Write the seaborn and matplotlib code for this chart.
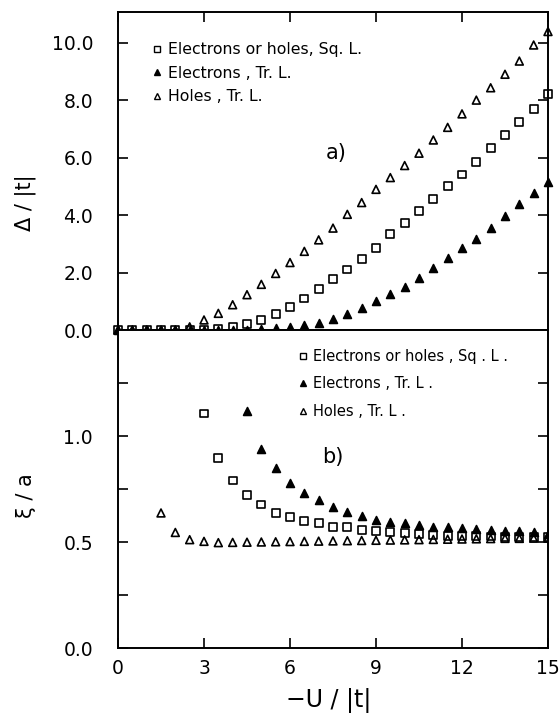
import numpy as np
import pandas as pd
import matplotlib
matplotlib.use("Agg")
import matplotlib.pyplot as plt
from matplotlib.lines import Line2D
import seaborn as sns

sns.set_theme(style="white")
plt.rcParams['font.family'] = ['DejaVu Sans']
plt.rcParams['text.color'] = 'black'
plt.rcParams['axes.labelcolor'] = 'black'
plt.rcParams['xtick.color'] = 'black'
plt.rcParams['ytick.color'] = 'black'

# ---------------- data ----------------
u_vals = [0.0, 0.5, 1.0, 1.5, 2.0, 2.5, 3.0, 3.5, 4.0, 4.5, 5.0, 5.5, 6.0, 6.5, 7.0,
          7.5, 8.0, 8.5, 9.0, 9.5, 10.0, 10.5, 11.0, 11.5, 12.0, 12.5, 13.0, 13.5,
          14.0, 14.5, 15.0]

# panel a) gap Delta/|t|
gap_sq = [0, 0, 0, 0, 0, 0, 0, 0.03, 0.12, 0.21, 0.35, 0.55, 0.81, 1.10, 1.44,
          1.77, 2.11, 2.48, 2.87, 3.33, 3.72, 4.15, 4.55, 5.01, 5.42, 5.84, 6.35,
          6.79, 7.24, 7.69, 8.22]
gap_el_tr = [0, 0, 0, 0, 0, 0, 0, 0, 0, 0, 0.02, 0.06, 0.11, 0.16, 0.24,
             0.40, 0.55, 0.78, 1.02, 1.25, 1.51, 1.82, 2.17, 2.52, 2.87, 3.17, 3.56,
             3.98, 4.39, 4.76, 5.17]
gap_ho_tr = [0, 0, 0, 0, 0, 0.11, 0.35, 0.58, 0.88, 1.23, 1.59, 1.97, 2.35, 2.74, 3.14,
             3.55, 4.03, 4.44, 4.90, 5.31, 5.73, 6.16, 6.62, 7.06, 7.53, 8.01, 8.44,
             8.91, 9.37, 9.93, 10.40]

# panel b) coherence length xi/a  (None = off scale)
xi_sq = [None, None, None, None, None, None, 1.106, 0.898, 0.790, 0.721, 0.677, 0.637,
         0.617, 0.598, 0.588, 0.572, 0.569, 0.557, 0.552, 0.549, 0.544, 0.538, 0.533,
         0.530, 0.528, 0.527, 0.526, 0.525, 0.524, 0.523, 0.522]
xi_el_tr = [None, None, None, None, None, None, None, None, None, 1.118, 0.937, 0.850,
            0.779, 0.731, 0.697, 0.664, 0.642, 0.621, 0.602, 0.595, 0.589, 0.580, 0.573,
            0.569, 0.565, 0.561, 0.557, 0.553, 0.550, 0.545, 0.537]
xi_ho_tr = [None, None, None, 0.637, 0.545, 0.511, 0.503, 0.497, 0.498, 0.499, 0.500,
            0.501, 0.502, 0.503, 0.504, 0.505, 0.506, 0.507, 0.508, 0.509, 0.510, 0.511,
            0.512, 0.513, 0.514, 0.515, 0.516, 0.517, 0.517, 0.518, 0.518]

labels_a = ["Electrons or holes, Sq. L.", "Electrons , Tr. L.", "Holes , Tr. L."]
labels_b = ["Electrons or holes , Sq . L .", "Electrons , Tr. L .", "Holes , Tr. L ."]

x_ticks = [0, 3, 6, 9, 12, 15]
ya_ticks = [0, 2, 4, 6, 8, 10]
ya_ticklabels = ["0.0", "2.0", "4.0", "6.0", "8.0", "10.0"]
yb_ticks = [0.0, 0.5, 1.0]
yb_ticklabels = ["0.0", "0.5", "1.0"]
yb_minor = [0.25, 0.75, 1.25]

df = pd.DataFrame({"u": u_vals,
                   "gap_sq": gap_sq, "gap_el": gap_el_tr, "gap_ho": gap_ho_tr,
                   "xi_sq": pd.to_numeric(pd.Series(xi_sq), errors="coerce"),
                   "xi_el": pd.to_numeric(pd.Series(xi_el_tr), errors="coerce"),
                   "xi_ho": pd.to_numeric(pd.Series(xi_ho_tr), errors="coerce")})

# ---------------- figure ----------------
fig = plt.figure(figsize=(5.6, 7.24), dpi=100)
fig.patch.set_facecolor("white")
L, R = 118 / 560, 548 / 560
ax_a = fig.add_axes([L, 1 - 330 / 724, R - L, 318 / 724])
ax_b = fig.add_axes([L, 1 - 648 / 724, R - L, 318 / 724])

ms = 32
lw_m = 1.2
styles = [("s", "none"), ("^", "black"), ("^", "none")]


def draw(ax, cols, clip):
    for col, (mk, fc) in zip(cols, styles):
        sub = df[["u", col]].dropna()
        sns.scatterplot(data=sub, x="u", y=col, ax=ax, marker=mk, s=ms,
                        facecolor=fc, edgecolor="black", linewidth=lw_m,
                        clip_on=clip, zorder=3, legend=False)


draw(ax_a, ["gap_sq", "gap_el", "gap_ho"], False)
draw(ax_b, ["xi_sq", "xi_el", "xi_ho"], True)

for ax in (ax_a, ax_b):
    ax.set_xlim(0, 15)
    ax.set_facecolor("white")
    for sp in ax.spines.values():
        sp.set_linewidth(1.4)
        sp.set_color("black")
    ax.tick_params(direction="in", length=7, width=1.2, colors="black",
                   labelsize=13.5, top=True, right=True, left=True, bottom=True)
    ax.set_xlabel("")
    ax.set_ylabel("")

ax_a.set_ylim(0, 11.08)
ax_a.set_yticks(ya_ticks)
ax_a.set_yticklabels(ya_ticklabels)
ax_a.set_xticks(x_ticks)
ax_a.tick_params(axis="x", bottom=False, labelbottom=False)
ax_a.tick_params(axis="y", pad=18)

ax_b.set_ylim(0, 1.5)
ax_b.set_yticks(yb_ticks)
ax_b.set_yticklabels(yb_ticklabels)
ax_b.set_yticks(yb_minor, minor=True)
ax_b.tick_params(axis="y", which="minor", direction="in", length=7, width=1.2,
                 left=True, right=True)
ax_b.set_xticks(x_ticks)
ax_b.set_xticklabels([str(t) for t in x_ticks])
ax_b.tick_params(axis="x", top=False, pad=8)
ax_b.tick_params(axis="y", pad=18)

ax_a.set_ylabel("Δ / |t|", fontsize=15, color="black")
ax_a.yaxis.set_label_coords(-0.19, 0.40)
ax_b.set_ylabel("ξ / a", fontsize=15, color="black")
ax_b.yaxis.set_label_coords(-0.19, 0.48)
ax_b.set_xlabel("−U / |t|", fontsize=17, color="black")
ax_b.xaxis.set_label_coords(0.49, -0.125)

ax_a.text(0.507, 0.557, "a)", transform=ax_a.transAxes, fontsize=15,
          ha="center", va="center", color="black")
ax_b.text(0.50, 0.60, "b)", transform=ax_b.transAxes, fontsize=15,
          ha="center", va="center", color="black")


def handles():
    return [Line2D([], [], linestyle="none", marker=mk, markersize=5,
                   markerfacecolor=fc, markeredgecolor="black", markeredgewidth=1.0)
            for mk, fc in styles]


leg_a = ax_a.legend(handles(), labels_a, loc="upper left", bbox_to_anchor=(0.08, 0.905),
                    frameon=False, fontsize=11.3, handlelength=0.6, handletextpad=0.4,
                    labelspacing=0.55, borderaxespad=0, borderpad=0, labelcolor="black")
leg_b = ax_b.legend(handles(), labels_b, loc="upper left", bbox_to_anchor=(0.42, 0.94),
                    frameon=False, fontsize=10.5, handlelength=0.6, handletextpad=0.4,
                    labelspacing=0.85, borderaxespad=0, borderpad=0, labelcolor="black")

fig.savefig("out.png", dpi=100, facecolor="white")
